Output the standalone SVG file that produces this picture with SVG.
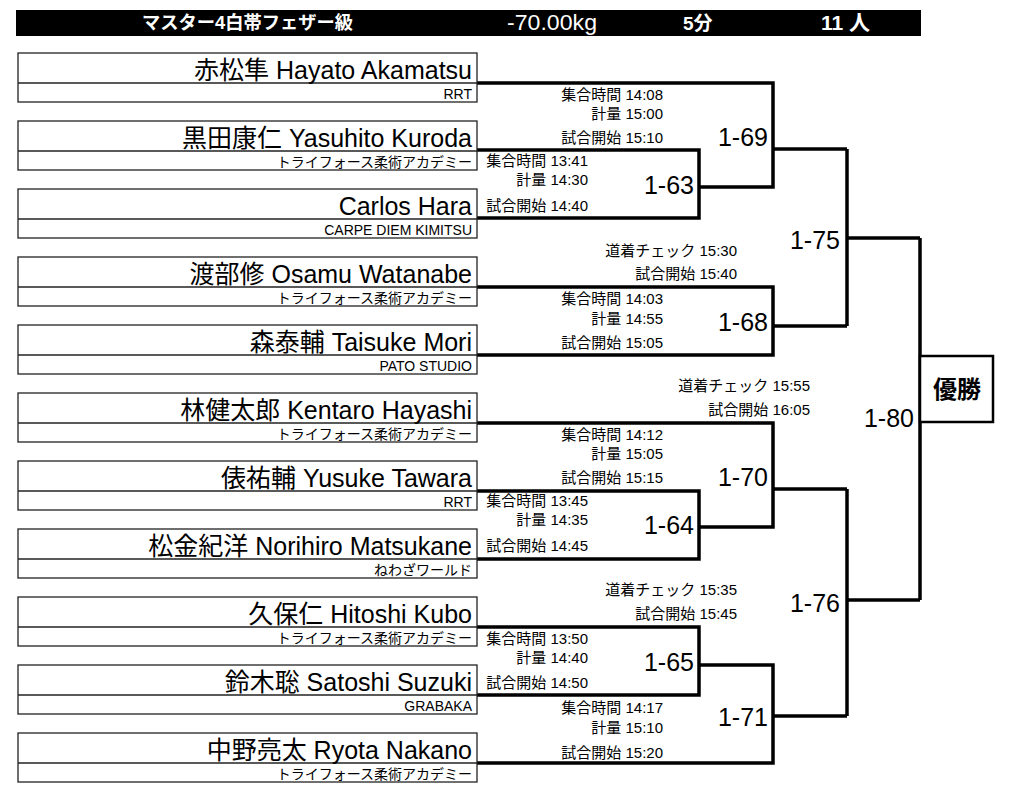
<svg xmlns="http://www.w3.org/2000/svg" width="1024" height="802" viewBox="0 0 1024 802">
<style>
text{font-family:"Liberation Sans","Noto Sans CJK JP",sans-serif;fill:#000}
.box{fill:#fff;stroke:#222;stroke-width:1.3}
.div{stroke:#222;stroke-width:1.3}
.name{font-size:25px;text-anchor:end}
.club{font-size:14px;text-anchor:end}
.t{font-size:15px;text-anchor:end}
.m{font-size:25px;text-anchor:end}
.wire{fill:none;stroke:#000;stroke-width:3.5}
.hd{fill:#fff}
</style>
<rect width="1024" height="802" fill="#fff"/>
<g id="header">
<rect x="16" y="10" width="905" height="26" fill="#000"/>
<text class="hd" x="142" y="29" font-size="18" font-weight="bold" textLength="211" lengthAdjust="spacingAndGlyphs">マスター4白帯フェザー級</text>
<text class="hd" x="507" y="30" font-size="22" textLength="90" lengthAdjust="spacingAndGlyphs">-70.00kg</text>
<text class="hd" x="683" y="30" font-size="19" font-weight="bold">5分</text>
<text class="hd" x="821" y="30" font-size="21" font-weight="bold">11 人</text>
</g>
<g id="connectors" class="wire">
<path d="M477,150 H699 V218 H477"/>
<path d="M477,83 H773 V187 H699"/>
<path d="M773,149 H847"/>
<path d="M477,287 H773 V355 H477"/>
<path d="M773,326 H847"/>
<path d="M847,149 V326"/>
<path d="M847,238 H920"/>
<path d="M477,491 H699 V559 H477"/>
<path d="M477,423 H773 V527 H699"/>
<path d="M773,489 H847"/>
<path d="M477,627 H699 V695 H477"/>
<path d="M699,665 H773 V763 H477"/>
<path d="M773,716 H847"/>
<path d="M847,489 V716"/>
<path d="M847,600 H920"/>
<path d="M920,238 V600"/>
</g>
<g id="p1"><rect class="box" x="18" y="53" width="459" height="49"/><line class="div" x1="18" y1="83" x2="477" y2="83"/><text class="name" x="472" y="79">赤松隼 Hayato Akamatsu</text><text class="club" x="472" y="99">RRT</text></g>
<g id="p2"><rect class="box" x="18" y="121" width="459" height="49"/><line class="div" x1="18" y1="151" x2="477" y2="151"/><text class="name" x="472" y="147">黒田康仁 Yasuhito Kuroda</text><text class="club" x="472" y="167">トライフォース柔術アカデミー</text></g>
<g id="p3"><rect class="box" x="18" y="189" width="459" height="49"/><line class="div" x1="18" y1="219" x2="477" y2="219"/><text class="name" x="472" y="215">Carlos Hara</text><text class="club" x="472" y="235">CARPE DIEM KIMITSU</text></g>
<g id="p4"><rect class="box" x="18" y="257" width="459" height="49"/><line class="div" x1="18" y1="287" x2="477" y2="287"/><text class="name" x="472" y="283">渡部修 Osamu Watanabe</text><text class="club" x="472" y="303">トライフォース柔術アカデミー</text></g>
<g id="p5"><rect class="box" x="18" y="325" width="459" height="49"/><line class="div" x1="18" y1="355" x2="477" y2="355"/><text class="name" x="472" y="351">森泰輔 Taisuke Mori</text><text class="club" x="472" y="371">PATO STUDIO</text></g>
<g id="p6"><rect class="box" x="18" y="393" width="459" height="49"/><line class="div" x1="18" y1="423" x2="477" y2="423"/><text class="name" x="472" y="419">林健太郎 Kentaro Hayashi</text><text class="club" x="472" y="439">トライフォース柔術アカデミー</text></g>
<g id="p7"><rect class="box" x="18" y="461" width="459" height="49"/><line class="div" x1="18" y1="491" x2="477" y2="491"/><text class="name" x="472" y="487">俵祐輔 Yusuke Tawara</text><text class="club" x="472" y="507">RRT</text></g>
<g id="p8"><rect class="box" x="18" y="529" width="459" height="49"/><line class="div" x1="18" y1="559" x2="477" y2="559"/><text class="name" x="472" y="555">松金紀洋 Norihiro Matsukane</text><text class="club" x="472" y="575">ねわざワールド</text></g>
<g id="p9"><rect class="box" x="18" y="597" width="459" height="49"/><line class="div" x1="18" y1="627" x2="477" y2="627"/><text class="name" x="472" y="623">久保仁 Hitoshi Kubo</text><text class="club" x="472" y="643">トライフォース柔術アカデミー</text></g>
<g id="p10"><rect class="box" x="18" y="665" width="459" height="49"/><line class="div" x1="18" y1="695" x2="477" y2="695"/><text class="name" x="472" y="691">鈴木聡 Satoshi Suzuki</text><text class="club" x="472" y="711">GRABAKA</text></g>
<g id="p11"><rect class="box" x="18" y="733" width="459" height="49"/><line class="div" x1="18" y1="763" x2="477" y2="763"/><text class="name" x="472" y="759">中野亮太 Ryota Nakano</text><text class="club" x="472" y="779">トライフォース柔術アカデミー</text></g>
<g id="m1-63"><text class="m" x="694" y="194">1-63</text><text class="t" x="588" y="165.5">集合時間 13:41</text><text class="t" x="588" y="184.5">計量 14:30</text><text class="t" x="588" y="210.5">試合開始 14:40</text></g>
<g id="m1-69"><text class="m" x="768" y="146">1-69</text><text class="t" x="663" y="99.5">集合時間 14:08</text><text class="t" x="663" y="118.5">計量 15:00</text><text class="t" x="663" y="142.5">試合開始 15:10</text></g>
<g id="m1-68"><text class="m" x="768" y="331">1-68</text><text class="t" x="663" y="303.5">集合時間 14:03</text><text class="t" x="663" y="323.5">計量 14:55</text><text class="t" x="663" y="347.5">試合開始 15:05</text></g>
<g id="m1-75"><text class="m" x="840" y="249">1-75</text><text class="t" x="737" y="255.5">道着チェック 15:30</text><text class="t" x="737" y="278.5">試合開始 15:40</text></g>
<g id="m1-64"><text class="m" x="694" y="534">1-64</text><text class="t" x="588" y="505.5">集合時間 13:45</text><text class="t" x="588" y="524.5">計量 14:35</text><text class="t" x="588" y="550.5">試合開始 14:45</text></g>
<g id="m1-70"><text class="m" x="768" y="486">1-70</text><text class="t" x="663" y="439.5">集合時間 14:12</text><text class="t" x="663" y="458.5">計量 15:05</text><text class="t" x="663" y="482.5">試合開始 15:15</text></g>
<g id="m1-65"><text class="m" x="694" y="671">1-65</text><text class="t" x="588" y="643.5">集合時間 13:50</text><text class="t" x="588" y="662.5">計量 14:40</text><text class="t" x="588" y="687.5">試合開始 14:50</text></g>
<g id="m1-71"><text class="m" x="768" y="726">1-71</text><text class="t" x="663" y="712.5">集合時間 14:17</text><text class="t" x="663" y="732.5">計量 15:10</text><text class="t" x="663" y="757.5">試合開始 15:20</text></g>
<g id="m1-76"><text class="m" x="840" y="612">1-76</text><text class="t" x="737" y="594.5">道着チェック 15:35</text><text class="t" x="737" y="618.5">試合開始 15:45</text></g>
<g id="m1-80"><text class="m" x="914" y="427">1-80</text><text class="t" x="810" y="390.5">道着チェック 15:55</text><text class="t" x="810" y="414.5">試合開始 16:05</text></g>
<g id="winner"><rect x="920" y="356" width="73" height="66" fill="#fff" stroke="#000" stroke-width="2.5"/><text x="957" y="398" font-size="24" font-weight="bold" text-anchor="middle">優勝</text></g>
</svg>
